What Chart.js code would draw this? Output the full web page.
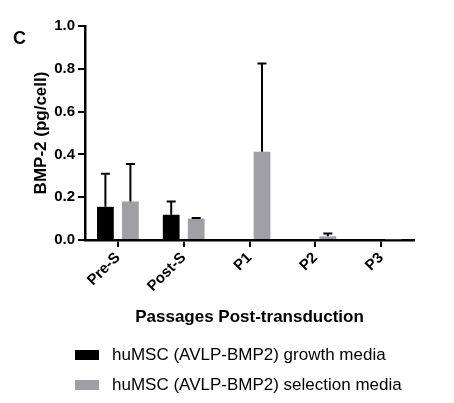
<!DOCTYPE html>
<html>
<head>
<meta charset="utf-8">
<script src="https://cdn.jsdelivr.net/npm/chart.js@4.4.0/dist/chart.umd.min.js"></script>
<style>
  html, body { margin: 0; padding: 0; background: #fff; }
  #wrap { position: relative; width: 454px; height: 403px; }
  #legend { position: absolute; left: 75px; top: 343px; font-family: "Liberation Sans", Arial, sans-serif; font-size: 17px; color: #000; }
  .row { display: flex; align-items: center; height: 24px; margin-bottom: 6px; }
  .sw { width: 24px; height: 10px; margin-right: 13px; }
</style>
</head>
<body>
<div id="wrap">
  <canvas id="chart" width="454" height="403"></canvas>
  <div id="legend"></div>
</div>
<script>
// passages and BMP-2 values (pg/cell), mean and upper SD
const passages = ['Pre-S', 'Post-S', 'P1', 'P2', 'P3'];
const growthMedia = [0.155, 0.118, 0, 0, 0];
const growthErr = [0.159, 0.066, 0, 0, 0];
const selectionMedia = [0.18, 0.1, 0.412, 0.017, 0.003];
const selectionErr = [0.18, 0.007, 0.417, 0.018, 0];
const seriesNames = ['huMSC (AVLP-BMP2) growth media', 'huMSC (AVLP-BMP2) selection media'];
const yTicks = [0, 0.2, 0.4, 0.6, 0.8, 1.0];

const black = '#000000';
const grey = 'rgb(160,160,164)';
const font = '"Liberation Sans", Arial, sans-serif';

// draws upper error bars with a cap
const errorBars = {
	id: 'errorBars',
	afterDatasetsDraw(chart) {
		const ctx = chart.ctx;
		const y = chart.scales.y;
		chart.data.datasets.forEach((ds, i) => {
			const meta = chart.getDatasetMeta(i);
			meta.data.forEach((bar, j) => {
				const err = ds.errors[j];
				if (!err) return;
				const top = y.getPixelForValue(ds.data[j] + err);
				ctx.save();
				ctx.strokeStyle = black;
				ctx.lineWidth = 2;
				ctx.beginPath();
				ctx.moveTo(bar.x, bar.y);
				ctx.lineTo(bar.x, top);
				ctx.moveTo(bar.x - 4.5, top + 1);
				ctx.lineTo(bar.x + 4.5, top + 1);
				ctx.stroke();
				ctx.restore();
			});
		});
	}
};

// panel letter
const panelLetter = {
	id: 'panelLetter',
	afterDraw(chart) {
		const ctx = chart.ctx;
		ctx.save();
		ctx.fillStyle = black;
		ctx.font = 'bold 18px ' + font;
		ctx.textBaseline = 'middle';
		ctx.fillText('C', 13, 39);
		ctx.restore();
	}
};

const chart = new Chart(document.getElementById('chart'), {
	type: 'bar',
	data: {
		labels: passages,
		datasets: [{
			label: seriesNames[0],
			data: growthMedia,
			errors: growthErr,
			backgroundColor: black
		}, {
			label: seriesNames[1],
			data: selectionMedia,
			errors: selectionErr,
			backgroundColor: grey
		}]
	},
	options: {
		responsive: false,
		animation: false,
		events: [],
		layout: { padding: { top: 26, right: 40, bottom: 68, left: 0 } },
		datasets: { bar: { categoryPercentage: 0.76, barPercentage: 0.67 } },
		plugins: { legend: { display: false }, tooltip: { enabled: false } },
		scales: {
			x: {
				afterFit(scale) { scale.height = 95; },
				grid: { offset: false, drawOnChartArea: false, tickLength: 7, color: black, lineWidth: 2 },
				border: { color: black, width: 2.5 },
				ticks: { color: black, font: { family: font, size: 15, weight: 'bold' }, minRotation: 45, maxRotation: 45, padding: 2 },
				title: { display: true, text: 'Passages Post-transduction', color: black, font: { family: font, size: 17, weight: 'bold' }, padding: { top: 0, bottom: 7 } }
			},
			y: {
				min: 0,
				max: 1,
				afterFit(scale) { scale.width = 85; },
				afterBuildTicks(scale) { scale.ticks = yTicks.map(v => ({ value: v })); },
				grid: { drawOnChartArea: false, tickLength: 7, color: black, lineWidth: 2 },
				border: { color: black, width: 2.5 },
				ticks: { color: black, font: { family: font, size: 15, weight: 'bold' }, padding: 3, callback: v => v.toFixed(1) },
				title: { display: true, text: 'BMP-2 (pg/cell)', color: black, font: { family: font, size: 17, weight: 'bold' }, padding: { top: 31, bottom: 0 } }
			}
		}
	},
	plugins: [errorBars, panelLetter]
});

// legend below the chart
const legend = document.getElementById('legend');
chart.data.datasets.forEach(ds => {
	const row = document.createElement('div');
	row.className = 'row';
	row.innerHTML = `<span class="sw" style="background:${ds.backgroundColor}"></span><span>${ds.label}</span>`;
	legend.appendChild(row);
});
</script>
</body>
</html>
